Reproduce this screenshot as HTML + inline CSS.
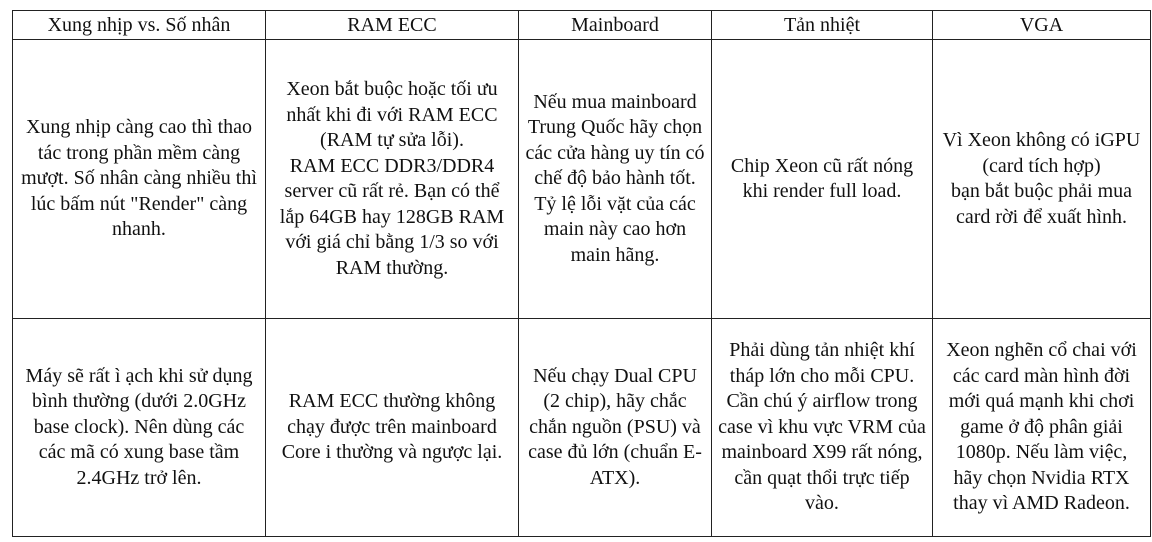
<!DOCTYPE html>
<html><head><meta charset="utf-8"><style>
body{margin:0;width:1152px;height:542px;background:#fff;overflow:hidden;position:relative;font-family:"Liberation Serif","DejaVu Serif",serif;color:#111}
table{position:absolute;left:12px;top:10px;width:1138px;border-collapse:collapse;table-layout:fixed}
td{border:1.5px solid #222;text-align:center;vertical-align:middle;font-size:20px;line-height:25.5px;padding:0;white-space:nowrap;overflow:hidden}
tr.h td{height:28px;line-height:24px}
</style></head><body>
<table>
<colgroup><col style="width:253px"><col style="width:253px"><col style="width:193px"><col style="width:221px"><col style="width:218px"></colgroup>
<tr class="h"><td>Xung nhịp vs. Số nhân</td><td>RAM ECC</td><td>Mainboard</td><td>Tản nhiệt</td><td>VGA</td></tr>
<tr style="height:279px"><td>Xung nhịp càng cao thì thao<br>tác trong phần mềm càng<br>mượt. Số nhân càng nhiều thì<br>lúc bấm nút "Render" càng<br>nhanh.</td>
<td>Xeon bắt buộc hoặc tối ưu<br>nhất khi đi với RAM ECC<br>(RAM tự sửa lỗi).<br>RAM ECC DDR3/DDR4<br>server cũ rất rẻ. Bạn có thể<br>lắp 64GB hay 128GB RAM<br>với giá chỉ bằng 1/3 so với<br>RAM thường.</td>
<td>Nếu mua mainboard<br>Trung Quốc hãy chọn<br>các cửa hàng uy tín có<br>chế độ bảo hành tốt.<br>Tỷ lệ lỗi vặt của các<br>main này cao hơn<br>main hãng.</td>
<td>Chip Xeon cũ rất nóng<br>khi render full load.</td>
<td>Vì Xeon không có iGPU<br>(card tích hợp)<br>bạn bắt buộc phải mua<br>card rời để xuất hình.</td></tr>
<tr style="height:218px"><td>Máy sẽ rất ì ạch khi sử dụng<br>bình thường (dưới 2.0GHz<br>base clock). Nên dùng các<br>các mã có xung base tầm<br>2.4GHz trở lên.</td>
<td>RAM ECC thường không<br>chạy được trên mainboard<br>Core i thường và ngược lại.</td>
<td>Nếu chạy Dual CPU<br>(2 chip), hãy chắc<br>chắn nguồn (PSU) và<br>case đủ lớn (chuẩn E-<br>ATX).</td>
<td>Phải dùng tản nhiệt khí<br>tháp lớn cho mỗi CPU.<br>Cần chú ý airflow trong<br>case vì khu vực VRM của<br>mainboard X99 rất nóng,<br>cần quạt thổi trực tiếp<br>vào.</td>
<td>Xeon nghẽn cổ chai với<br>các card màn hình đời<br>mới quá mạnh khi chơi<br>game ở độ phân giải<br>1080p. Nếu làm việc,<br>hãy chọn Nvidia RTX<br>thay vì AMD Radeon.</td></tr>
</table>
</body></html>
